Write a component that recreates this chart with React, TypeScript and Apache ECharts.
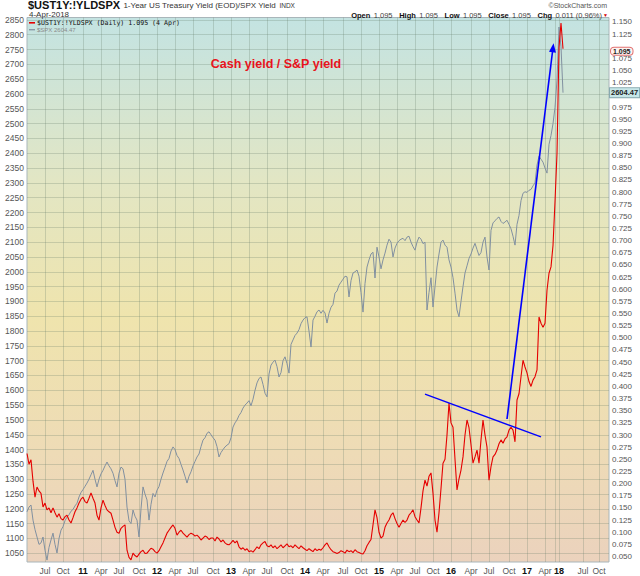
import React, { useEffect, useRef } from "react";
import * as echarts from "echarts";

// S&P 500 (left axis), one value per chart slot
const spxValues = [
  1190, 1206, 1213, 1162, 1130, 1105, 1080, 1085, 1105, 1060,
  1027, 1070, 1095, 1118, 1080, 1051, 1100, 1128, 1140, 1160,
  1172, 1180, 1192, 1198, 1210, 1219, 1240, 1255, 1265, 1276,
  1287, 1300, 1315, 1330, 1300, 1274, 1300, 1318, 1330, 1345,
  1358, 1345, 1335, 1320, 1295, 1274, 1320, 1341, 1335, 1300,
  1206, 1160, 1150, 1196, 1175, 1162, 1105, 1200, 1274, 1250,
  1230, 1162, 1215, 1252, 1240, 1263, 1275, 1300, 1321, 1340,
  1360, 1370, 1395, 1409, 1400, 1380, 1370, 1350, 1331, 1310,
  1287, 1310, 1325, 1345, 1360, 1375, 1385, 1410, 1432, 1440,
  1455, 1460, 1450, 1440, 1432, 1410, 1375, 1390, 1400, 1409,
  1415, 1420, 1440, 1476, 1490, 1500, 1515, 1525, 1540, 1550,
  1557, 1565, 1548, 1570, 1600, 1625, 1640, 1645, 1620, 1590,
  1578, 1655, 1685, 1695, 1702, 1680, 1645, 1660, 1700, 1713,
  1690, 1658, 1755, 1770, 1785, 1793, 1805, 1825, 1837, 1845,
  1848, 1800, 1746, 1837, 1850, 1865, 1871, 1860, 1870, 1861,
  1827, 1860, 1880, 1890, 1928, 1935, 1955, 1965, 1975, 1985,
  1983, 1915, 1970, 1996, 2000, 2006, 1985, 1930, 1864, 1960,
  2016, 2040, 2060, 2066, 1979, 2083, 2050, 2010, 2040, 2063,
  2090, 2110, 2100, 2050, 2080, 2096, 2105, 2110, 2113, 2105,
  2117, 2120, 2100, 2085, 2073, 2100, 2117, 2110, 2095, 2100,
  1871, 1930, 1980, 1881, 1950, 2016, 2060, 2100, 2107, 2090,
  2083, 2040, 2016, 1980, 1928, 1871, 1848, 1900, 1950, 1996,
  2020, 2045, 2060, 2080, 2096, 2075, 2055, 2065, 2100, 2117,
  2050, 2006, 2140, 2165, 2172, 2180, 2185, 2170, 2163, 2168,
  2174, 2160, 2145, 2120, 2090, 2160, 2190, 2240, 2265, 2270,
  2268, 2275, 2278, 2290, 2300, 2360, 2390, 2380, 2370, 2350,
  2333, 2430, 2460, 2500, 2555, 2647, 2826, 2760, 2604.47,
];

// 1-Year Treasury yield / SPX yield (right axis)
const ratioValues = [
  0.262, 0.240, 0.249, 0.205, 0.172, 0.193, 0.185, 0.180, 0.152, 0.160,
  0.146, 0.150, 0.140, 0.150, 0.140, 0.131, 0.138, 0.128, 0.125, 0.132,
  0.135, 0.125, 0.119, 0.130, 0.142, 0.150, 0.160, 0.168, 0.172, 0.163,
  0.160, 0.170, 0.181, 0.170, 0.160, 0.135, 0.125, 0.150, 0.166, 0.155,
  0.146, 0.142, 0.139, 0.125, 0.110, 0.100, 0.098, 0.108, 0.112, 0.115,
  0.063, 0.048, 0.043, 0.057, 0.052, 0.049, 0.055, 0.060, 0.063, 0.056,
  0.057, 0.062, 0.067, 0.065, 0.060, 0.057, 0.062, 0.070, 0.078, 0.088,
  0.098, 0.104, 0.110, 0.115, 0.108, 0.094, 0.100, 0.104, 0.098, 0.094,
  0.090, 0.095, 0.098, 0.096, 0.092, 0.094, 0.090, 0.084, 0.088, 0.092,
  0.090, 0.085, 0.088, 0.088, 0.082, 0.090, 0.086, 0.080, 0.084, 0.078,
  0.075, 0.074, 0.078, 0.083, 0.078, 0.082, 0.070, 0.065, 0.068, 0.063,
  0.066, 0.060, 0.062, 0.059, 0.064, 0.070, 0.066, 0.074, 0.078, 0.081,
  0.072, 0.070, 0.074, 0.068, 0.072, 0.066, 0.070, 0.074, 0.068, 0.072,
  0.076, 0.070, 0.072, 0.068, 0.074, 0.070, 0.066, 0.072, 0.068, 0.065,
  0.062, 0.066, 0.063, 0.060, 0.066, 0.062, 0.065, 0.063, 0.068, 0.074,
  0.078, 0.070, 0.064, 0.060, 0.058, 0.056, 0.058, 0.062, 0.060, 0.057,
  0.063, 0.060, 0.062, 0.058, 0.064, 0.060, 0.058, 0.056, 0.055, 0.062,
  0.072, 0.079, 0.085, 0.115, 0.146, 0.130, 0.100, 0.088, 0.092, 0.110,
  0.119, 0.125, 0.135, 0.140, 0.128, 0.118, 0.110, 0.118, 0.125, 0.120,
  0.125, 0.135, 0.140, 0.146, 0.132, 0.125, 0.119, 0.150, 0.185, 0.207,
  0.195, 0.215, 0.222, 0.180, 0.125, 0.100, 0.140, 0.190, 0.242, 0.250,
  0.300, 0.366, 0.325, 0.316, 0.250, 0.187, 0.210, 0.228, 0.255, 0.300,
  0.331, 0.315, 0.280, 0.242, 0.255, 0.269, 0.242, 0.290, 0.331, 0.300,
  0.275, 0.207, 0.235, 0.255, 0.260, 0.269, 0.282, 0.290, 0.283, 0.292,
  0.296, 0.310, 0.316, 0.310, 0.286, 0.372, 0.385, 0.420, 0.454, 0.440,
  0.428, 0.410, 0.400, 0.413, 0.420, 0.434, 0.543, 0.530, 0.522, 0.530,
  0.598, 0.633, 0.646, 0.690, 0.780, 0.880, 1.098, 1.148, 1.095,
];

const slotCount = 292;
const tickSlots = [9, 18, 28, 37, 46, 56, 65, 74, 83, 93, 102, 111, 120, 130, 139, 148, 158, 167, 176, 185, 194, 203, 212, 222, 231, 241, 250, 259, 266, 278, 286];
const tickLabels = ["Jul", "Oct", "11", "Apr", "Jul", "Oct", "12", "Apr", "Jul", "Oct", "13", "Apr", "Jul", "Oct", "14", "Apr", "Jul", "Oct", "15", "Apr", "Jul", "Oct", "16", "Apr", "Jul", "Oct", "17", "Apr", "18", "Jul", "Oct"];
const extraGridSlots = [264];
// right-axis labels hidden behind the value tags
const coveredRatioLabels = ["1.100", "1.000"];

const spxLast = 2604.47;
const ratioLast = 1.095;
const trendLine = [[199, 0.384], [257, 0.296]];
const arrowLine = [[240, 0.333], [263, 1.097]];

const FONT = '"Liberation Sans", Arial, sans-serif';

export default function App() {
  const ref = useRef<HTMLDivElement>(null);
  useEffect(() => {
    if (!ref.current) return;
    const chart = echarts.init(ref.current, null, { renderer: "svg" });
    const cats = Array.from({ length: slotCount }, (_, i) => String(i));
    const labelMap = new Map<number, string>(tickSlots.map((s, i) => [s, tickLabels[i]]));
    const gridSet = new Set<number>([...tickSlots, ...extraGridSlots]);
    const gridColor = "rgba(100,125,105,0.26)";
    const hiddenLine = { color: "rgba(0,0,0,0)", width: 0, opacity: 1 };

    const option: any = {
      animation: false,
      backgroundColor: "#ffffff",
      grid: [
        { left: 27, width: 582, top: 5.1, height: 563 },
        { left: 27, width: 582, top: 9.85, height: 558.8 },
        {
          left: 27, width: 582, top: 17.5, height: 544.5, show: true,
          borderColor: "#a9b6ba", borderWidth: 1,
          backgroundColor: {
            type: "linear", x: 0, y: 0, x2: 0, y2: 1,
            colorStops: [
              { offset: 0, color: "#c3e3e2" },
              { offset: 0.3, color: "#e2e6c4" },
              { offset: 0.55, color: "#efe4ad" },
              { offset: 0.8, color: "#eedbb6" },
              { offset: 1, color: "#ebd2bd" },
            ],
          },
        },
      ],
      xAxis: [
        { gridIndex: 0, type: "category", data: cats, boundaryGap: false, show: false },
        { gridIndex: 1, type: "category", data: cats, boundaryGap: false, show: false },
        {
          gridIndex: 2, type: "category", data: cats, boundaryGap: false,
          axisLine: { show: false }, axisTick: { show: false },
          axisLabel: {
            interval: (i: number) => labelMap.has(i),
            formatter: (_v: string, i: number) => {
              const l = labelMap.get(i) || "";
              return /^\d+$/.test(l) ? `{y|${l}}` : `{m|${l}}`;
            },
            margin: 4,
            rich: {
              y: { fontWeight: "bold", color: "#111", fontSize: 9, fontFamily: FONT },
              m: { color: "#555", fontSize: 8.5, fontFamily: FONT },
            },
          },
          splitLine: { show: true, interval: (i: number) => gridSet.has(i), lineStyle: { color: gridColor, width: 1 } },
        },
      ],
      yAxis: [
        {
          gridIndex: 0, type: "value", position: "left", min: 1000, max: 2900, interval: 50,
          axisLine: { show: false }, axisTick: { show: false },
          axisLabel: {
            showMinLabel: false, showMaxLabel: false, fontSize: 8.5, color: "#555", margin: 3, fontFamily: FONT,
            formatter: (v: number) => String(Math.round(v)),
          },
          splitLine: { show: true, showMinLine: false, showMaxLine: false, lineStyle: { color: gridColor, width: 1 } },
        },
        {
          gridIndex: 1, type: "value", position: "right", min: 0.025, max: 1.175, interval: 0.025,
          axisLine: { show: false }, axisTick: { show: false },
          axisLabel: {
            showMinLabel: false, showMaxLabel: false, fontSize: 8, lineHeight: 8, color: "#555", margin: 3, fontFamily: FONT,
            formatter: (v: number) => {
              const s = v.toFixed(3);
              return coveredRatioLabels.includes(s) ? "" : s;
            },
          },
          splitLine: { show: false },
        },
        { gridIndex: 2, type: "value", show: false, splitLine: { show: false } },
      ],
      series: [
        {
          type: "line", name: "$SPX", xAxisIndex: 0, yAxisIndex: 0, data: spxValues,
          showSymbol: false, symbol: "none", silent: true, z: 2,
          lineStyle: { color: "#8190a0", width: 1 }, itemStyle: { color: "#8190a0" },
          markLine: {
            silent: true, symbol: ["none", "none"], animation: false,
            lineStyle: hiddenLine,
            data: [
              {
                yAxis: spxLast,
                lineStyle: hiddenLine,
                label: {
                  show: true, position: "end", distance: 1, formatter: () => spxLast.toFixed(2), opacity: 1,
                  backgroundColor: "#c6e6e8", borderColor: "#88aab0", borderWidth: 1,
                  padding: [1, 1, 0, 1], fontSize: 7.5, lineHeight: 8, fontWeight: "bold", color: "#222", fontFamily: FONT,
                },
              },
            ],
          },
        },
        {
          type: "line", name: "$UST1Y:!YLDSPX", xAxisIndex: 1, yAxisIndex: 1, data: ratioValues,
          showSymbol: false, symbol: "none", silent: true, z: 3,
          lineStyle: { color: "#e50000", width: 1.1 }, itemStyle: { color: "#e50000" },
          markLine: {
            silent: true, symbol: ["none", "none"], animation: false,
            lineStyle: { color: "#0000ff", width: 1.5, type: "solid" },
            label: { show: false },
            data: [
              {
                yAxis: ratioLast,
                lineStyle: hiddenLine,
                label: {
                  show: true, position: "end", distance: 2, formatter: () => ratioLast.toFixed(3), opacity: 1,
                  backgroundColor: "#fdf3f0", borderColor: "#e07070", borderWidth: 1, borderRadius: 3,
                  padding: [0, 2, 0, 2], fontSize: 7, lineHeight: 7, fontWeight: "bold", color: "#222", fontFamily: FONT,
                },
              },
              [
                { coord: trendLine[0], lineStyle: { color: "#0000ff", width: 1.3, opacity: 1 }, label: { show: false } },
                { coord: trendLine[1], lineStyle: { color: "#0000ff", width: 1.3, opacity: 1 }, label: { show: false } },
              ],
              [
                { coord: arrowLine[0], symbol: "none", lineStyle: { color: "#0000ff", width: 1.6, opacity: 1 }, label: { show: false } },
                { coord: arrowLine[1], symbol: "triangle", symbolSize: [7, 9], lineStyle: { color: "#0000ff", width: 1.6, opacity: 1 }, label: { show: false } },
              ],
            ],
          },
        },
      ],
      graphic: [
        {
          type: "text", x: 28, y: 5, z: 10,
          style: {
            text: "{t|$UST1Y:!YLDSPX} {s|1-Year US Treasury Yield (EOD)/SPX Yield} {x|INDX}",
            verticalAlign: "middle",
            rich: {
              t: { fontSize: 11, fontWeight: "bold", fill: "#111", fontFamily: FONT, lineHeight: 10 },
              s: { fontSize: 8, fill: "#333", fontFamily: FONT, lineHeight: 10 },
              x: { fontSize: 6.5, fill: "#333", fontFamily: FONT, lineHeight: 10 },
            },
          },
        },
        {
          type: "text", x: 29, y: 14.5, z: 10,
          style: { text: "4-Apr-2018", fontSize: 8, lineHeight: 8, fill: "#333", fontFamily: FONT, verticalAlign: "middle" },
        },
        { type: "rect", x: 29, y: 22, z: 10, shape: { width: 6, height: 1.6 }, style: { fill: "#e50000" } },
        {
          type: "text", x: 37, y: 23, z: 10,
          style: { text: "$UST1Y:!YLDSPX (Daily) 1.095 (4 Apr)", fontSize: 6.6, fill: "#111", fontFamily: '"DejaVu Sans Mono", monospace', verticalAlign: "middle" },
        },
        { type: "rect", x: 29, y: 29, z: 10, shape: { width: 6, height: 1.4 }, style: { fill: "#8a98a6" } },
        {
          type: "text", x: 37, y: 30, z: 10,
          style: { text: "$SPX 2604.47", fontSize: 6, fill: "#8a8a8a", fontFamily: FONT, verticalAlign: "middle" },
        },
        {
          type: "text", x: 607, y: 5, z: 10,
          style: { text: "©StockCharts.com", fontSize: 7, fill: "#555", fontFamily: FONT, align: "right", verticalAlign: "middle" },
        },
        {
          type: "text", x: 602, y: 15, z: 10,
          style: {
            text: "{b|Open} {n|1.095}  {b|High} {n|1.095}  {b|Low} {n|1.095}  {b|Close} {n|1.095}  {b|Chg} {n|0.011 (0.96%)}",
            align: "right", verticalAlign: "middle",
            rich: {
              b: { fontSize: 7.5, fontWeight: "bold", fill: "#111", fontFamily: FONT },
              n: { fontSize: 7.5, fill: "#444", fontFamily: FONT },
            },
          },
        },
        {
          type: "text", x: 603, y: 15, z: 10,
          style: { text: "▼", fontSize: 5, fill: "#d00000", fontFamily: FONT, verticalAlign: "middle" },
        },
        {
          type: "text", x: 276, y: 64, z: 10,
          style: { text: "Cash yield / S&P yield", fontSize: 12.5, fontWeight: "bold", fill: "#e8131c", fontFamily: FONT, align: "center", verticalAlign: "middle" },
        },
      ],
    };
    chart.setOption(option);
    return () => chart.dispose();
  }, []);
  return <div ref={ref} style={{ position: "absolute", left: 0, top: 0, width: 640, height: 576 }} />;
}
